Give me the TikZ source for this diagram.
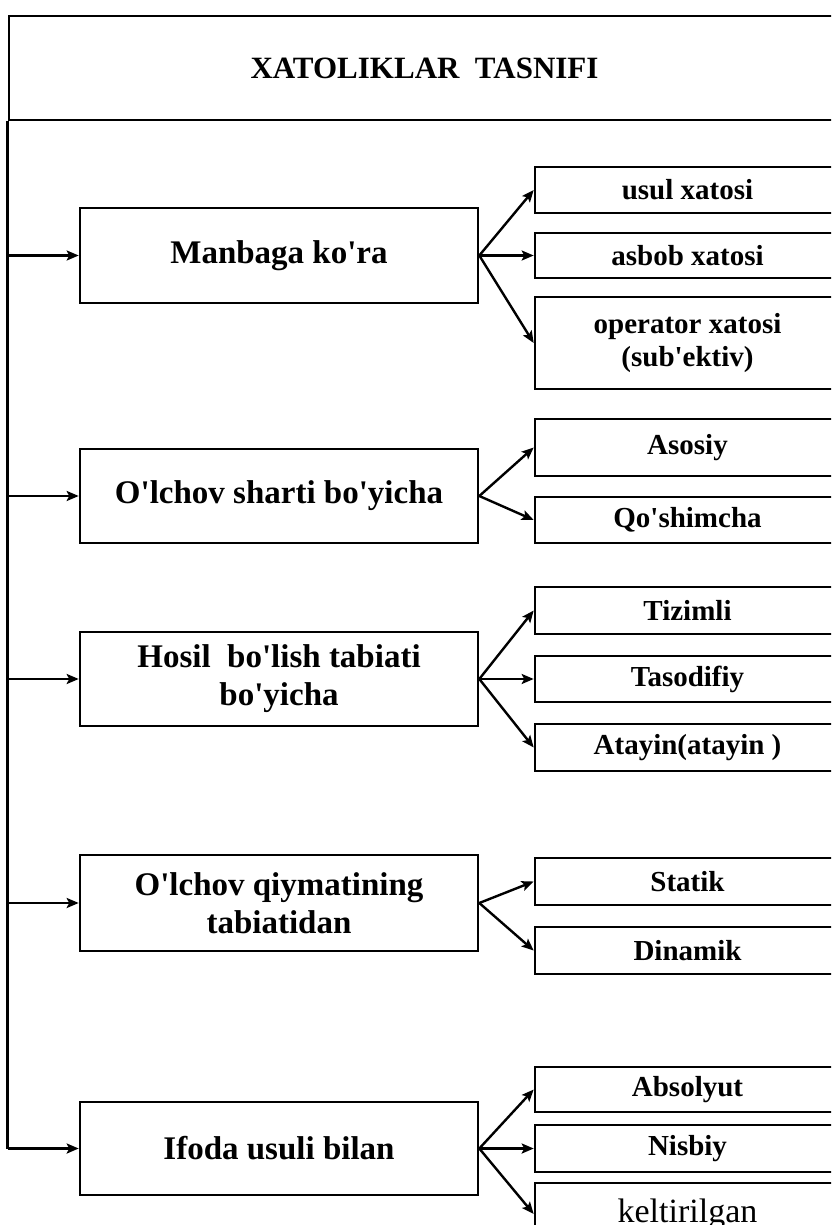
\documentclass[tikz,border=0pt]{standalone}
\usepackage{fontspec}
\setmainfont{Liberation Serif}[Ligatures=TeXOff]
\usetikzlibrary{arrows.meta}
\begin{document}
\begin{tikzpicture}[x=1pt,y=-1pt,
  box/.style={draw, line width=2.6pt, align=center, inner sep=0pt, anchor=center},
  mainbox/.style={box, minimum width=398pt, minimum height=95pt, font=\fontsize{33}{38}\selectfont\bfseries},
  subbox/.style={box, minimum width=305pt, font=\fontsize{29}{33}\selectfont\bfseries},
  conn/.style={line width=2.4pt, -{Stealth[length=12pt,width=10pt,inset=2.5pt]}},
  trunk/.style={line width=2.6pt},
]
\useasboundingbox (0,0) rectangle (831,1225);
\clip (0,0) rectangle (831,1225);
% title
\node[box, minimum width=831pt, minimum height=104pt, font=\fontsize{31}{36}\selectfont\bfseries] (title) at (424.5,68) {XATOLIKLAR\ \ TASNIFI};
% group 1
\node[mainbox] (m1) at (279,255.5) {Manbaga ko'ra};
\node[subbox, minimum height=46pt] (s11) at (687.5,190) {usul xatosi};
\node[subbox, minimum height=45pt] (s12) at (687.5,255.5) {asbob xatosi};
\node[subbox, minimum height=92pt] (s13) at (687.5,343) {operator xatosi\\(sub'ektiv)};
% group 2
\node[mainbox, minimum height=94pt] (m2) at (279,496) {O'lchov sharti bo'yicha};
\node[subbox, minimum height=57pt] (s21) at (687.5,447.5) {Asosiy};
\node[subbox, minimum height=46pt] (s22) at (687.5,520) {Qo'shimcha};
% group 3
\node[mainbox, minimum height=94pt] (m3) at (279,679) {Hosil\ \ bo'lish tabiati\\bo'yicha};
\node[subbox, minimum height=47pt] (s31) at (687.5,610.5) {Tizimli};
\node[subbox, minimum height=46pt] (s32) at (687.5,679) {Tasodifiy};
\node[subbox, minimum height=47pt] (s33) at (687.5,747.5) {Atayin(atayin\ )};
% group 4
\node[mainbox, minimum height=96pt] (m4) at (279,903) {O'lchov qiymatining\\tabiatidan};
\node[subbox, minimum height=47pt] (s41) at (687.5,881.5) {Statik};
\node[subbox, minimum height=47pt] (s42) at (687.5,950.5) {Dinamik};
% group 5
\node[mainbox, minimum height=93pt] (m5) at (279,1148.5) {Ifoda usuli bilan};
\node[subbox, minimum height=45pt] (s51) at (687.5,1089.5) {Absolyut};
\node[subbox, minimum height=47pt] (s52) at (687.5,1148.5) {Nisbiy};
\node[subbox, minimum height=62pt, font=\fontsize{34}{38}\selectfont] (s53) at (687.5,1214) {keltirilgan};
% trunk and branches
\draw[trunk] (title.south west) -- (title.south west |- m5.west);
\draw[conn] (title.south west |- m5.west) -- (m5.west);
\draw[conn] (title.south west |- m1.west) -- (m1.west);
\draw[conn] (title.south west |- m2.west) -- (m2.west);
\draw[conn] (title.south west |- m3.west) -- (m3.west);
\draw[conn] (title.south west |- m4.west) -- (m4.west);
% fans
\draw[conn] (m1.east) -- (s11.west);
\draw[conn] (m1.east) -- (s12.west);
\draw[conn] (m1.east) -- (s13.west);
\draw[conn] (m2.east) -- (s21.west);
\draw[conn] (m2.east) -- (s22.west);
\draw[conn] (m3.east) -- (s31.west);
\draw[conn] (m3.east) -- (s32.west);
\draw[conn] (m3.east) -- (s33.west);
\draw[conn] (m4.east) -- (s41.west);
\draw[conn] (m4.east) -- (s42.west);
\draw[conn] (m5.east) -- (s51.west);
\draw[conn] (m5.east) -- (s52.west);
\draw[conn] (m5.east) -- (s53.west);
\end{tikzpicture}
\end{document}
